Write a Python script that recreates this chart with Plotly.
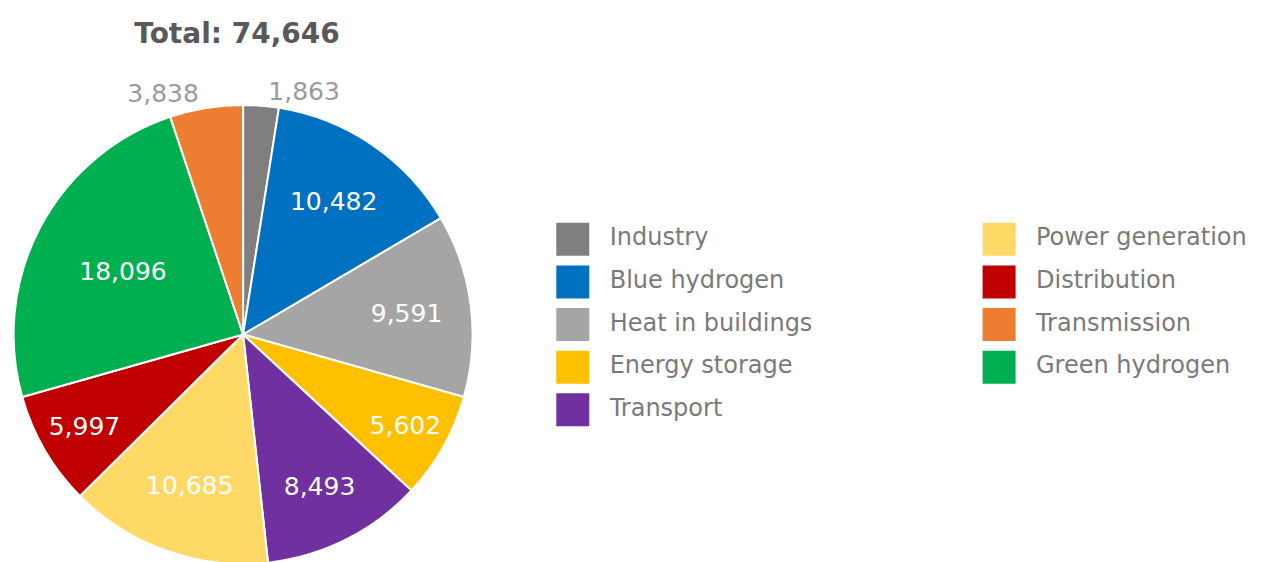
import plotly.graph_objects as go

# Data
categories = ["Industry", "Blue hydrogen", "Heat in buildings", "Energy storage", "Transport",
              "Power generation", "Distribution", "Green hydrogen", "Transmission"]
values = [1863, 10482, 9591, 5602, 8493, 10685, 5997, 18096, 3838]
colors = ["#7F7F7F", "#0070C0", "#A5A5A5", "#FFC000", "#7030A0",
          "#FFD966", "#C00000", "#00B050", "#ED7D31"]
total_label = "Total: 74,646"

legend_order = ["Industry", "Blue hydrogen", "Heat in buildings", "Energy storage", "Transport",
                "Power generation", "Distribution", "Transmission", "Green hydrogen"]
rows_per_col = 5

FONT = "DejaVu Sans"
TOP = 97
H = 562

textpos = ["outside" if v < 4000 else "inside" for v in values]

fig = go.Figure()
fig.add_trace(go.Pie(
    labels=categories, values=values, sort=False, direction="clockwise", rotation=0,
    marker=dict(colors=colors, line=dict(color="white", width=2)),
    texttemplate="%{value:,}", textposition=textpos,
    insidetextorientation="horizontal",
    insidetextfont=dict(color="white", size=25, family=FONT),
    outsidetextfont=dict(color="#9A9A9A", size=25, family=FONT),
    domain=dict(x=[0, 462/1270], y=[0, 1]),
    showlegend=False, hoverinfo="label+value",
))

# Legend drawn as a scatter on hidden axes (column/row indices)
color_of = dict(zip(categories, colors))
lx = [i // rows_per_col for i in range(len(legend_order))]
ly = [i % rows_per_col for i in range(len(legend_order))]
fig.add_trace(go.Scatter(
    x=lx, y=ly, mode="markers+text",
    marker=dict(symbol="square", size=33, color=[color_of[c] for c in legend_order], line=dict(width=0)),
    text=["  " + c for c in legend_order], textposition="middle right",
    textfont=dict(color="#7A7A7A", size=24, family=FONT),
    showlegend=False, hoverinfo="skip", cliponaxis=False,
))

row0, step = 233, 43.2
ytop = -(row0 - TOP) / step
ybot = (H - row0) / step

fig.update_layout(
    width=1270, height=H,
    margin=dict(l=0, r=0, t=TOP, b=0),
    paper_bgcolor="white", plot_bgcolor="rgba(0,0,0,0)",
    title=dict(text="<b>" + total_label + "</b>", x=229/1270, xanchor="center",
               y=1 - 25/H, yanchor="middle",
               font=dict(family=FONT, size=28, color="#595959")),
    xaxis=dict(domain=[348/1270, 1204/1270], range=[-0.5, 1.5], visible=False, fixedrange=True),
    yaxis=dict(domain=[0, 1], range=[ybot, ytop], visible=False, fixedrange=True),
)

fig.write_html("out.html")
